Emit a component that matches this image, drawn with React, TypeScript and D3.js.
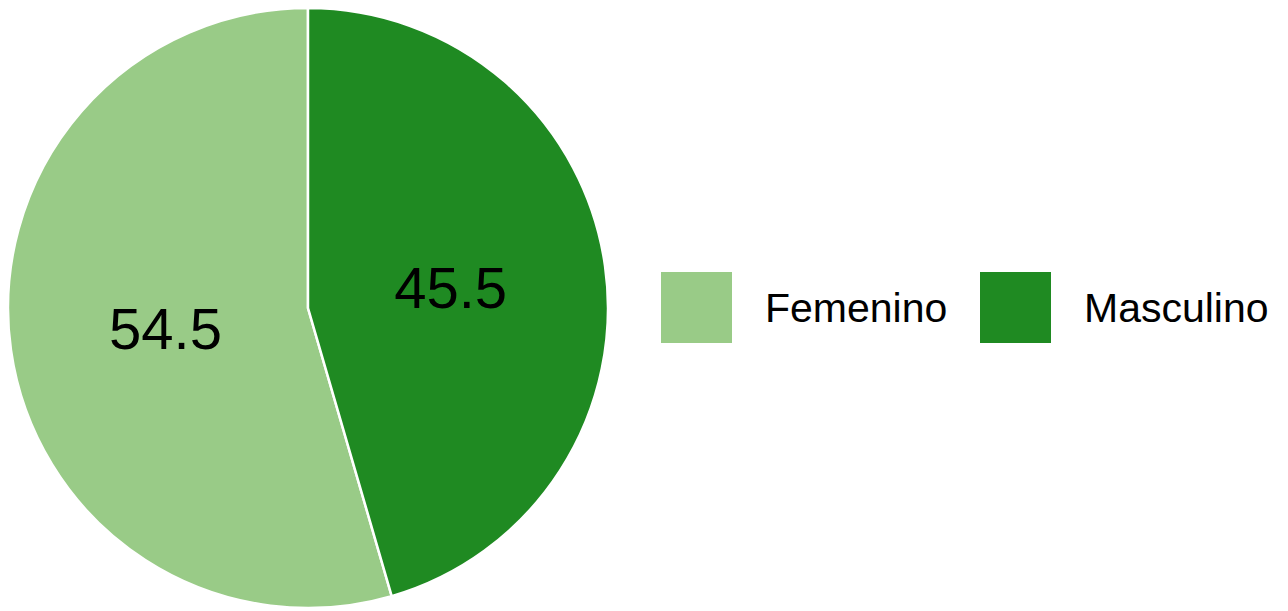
import React from 'react';
import * as d3 from 'd3';

const categories = ['Femenino', 'Masculino'];
const values = [54.5, 45.5];
const colors = ['#99cb87', '#1f8a22'];

const W = 1288;
const H = 611;
const cx = 308;
const cy = 308;
const R = 300;

const App = () => {
  const data = categories.map((name, i) => ({ name, value: values[i], color: colors[i] }));
  const total = d3.sum(values);
  // Masculino starts at 12 o'clock, Femenino fills the rest
  const start = -2 * Math.PI * (values[0] / total);
  const pie = d3.pie<any>().sort(null).value(d => d.value).startAngle(start).endAngle(start + 2 * Math.PI);
  const arc = d3.arc<any>().innerRadius(0).outerRadius(R);
  const labelArc = d3.arc<any>().innerRadius(R * 0.48).outerRadius(R * 0.48);
  const arcs = pie(data);

  const legendX = d3.scalePoint<string>().domain(categories).range([661, 980]);

  return (
    <svg width={W} height={H} style={{ position: 'absolute', left: 0, top: 0 }} fontFamily="Liberation Sans, Arial, sans-serif">
      <rect width={W} height={H} fill="#fff" />
      <g transform={`translate(${cx}, ${cy})`}>
        {arcs.map(a => (
          <path key={a.data.name} d={arc(a) || ''} fill={a.data.color} stroke="#fff" strokeWidth={2.5} />
        ))}
        {arcs.map(a => (
          <text
            key={a.data.name}
            transform={`translate(${labelArc.centroid(a)})`}
            textAnchor="middle"
            dominantBaseline="central"
            fontSize={58}
            fill="#000"
          >
            {a.data.value}
          </text>
        ))}
      </g>
      {data.map(d => (
        <g key={d.name} transform={`translate(${legendX(d.name)}, 272)`}>
          <rect width={71} height={71} fill={d.color} />
          <text x={104} y={35.5} dominantBaseline="central" fontSize={41} fill="#000">{d.name}</text>
        </g>
      ))}
    </svg>
  );
};

export default App;
